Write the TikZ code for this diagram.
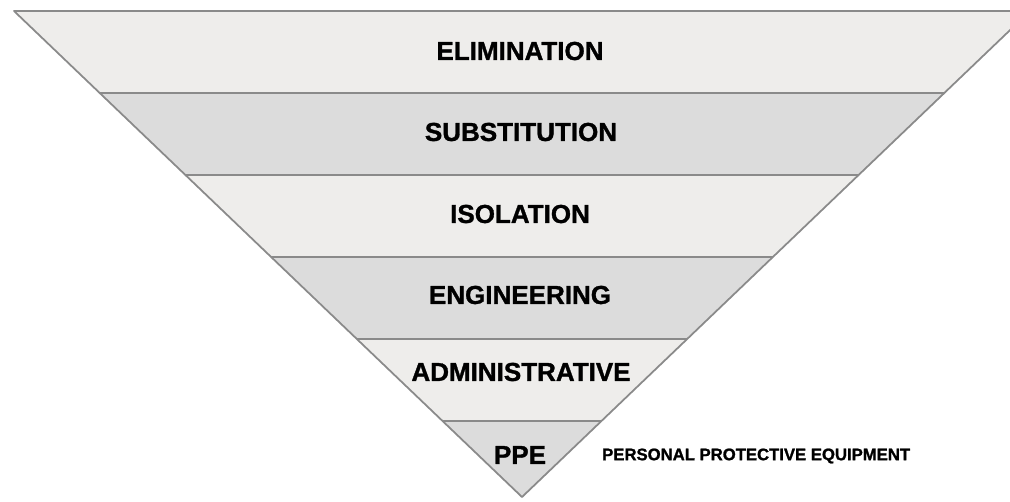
\documentclass[tikz,border=0pt]{standalone}
\usepackage{fontspec}
\setmainfont{Liberation Sans}[BoldFeatures={FakeBold=1.2}]
\definecolor{bandlight}{HTML}{EEEDEB}
\definecolor{banddark}{HTML}{DCDCDC}
\definecolor{edgegray}{HTML}{8A8A8A}
\tikzset{
    level/.style={font=\bfseries\fontsize{14.8}{17}\selectfont},
    note/.style={font=\bfseries\fontsize{9.5}{11}\selectfont, anchor=west}
}

\begin{document}
\begin{tikzpicture}[x=0.02cm, y=-0.02cm]
    \useasboundingbox (0,0) rectangle (1010,501);
    % Draw the bands inside the triangle
    \begin{scope}
        \clip (14,11) -- (1030,11) -- (522,497) -- cycle;
        \foreach \i/\col in {0/bandlight,1/banddark,2/bandlight,3/banddark,4/bandlight,5/banddark}
            \fill[\col] (0,11+82*\i) rectangle (1040,93+82*\i);
        \foreach \i in {1,...,5}
            \draw[edgegray, line width=1.1pt] (0,11+82*\i) -- (1040,11+82*\i);
    \end{scope}
    \draw[edgegray, line width=1pt, line join=round] (14,11) -- (1030,11) -- (522,497) -- cycle;
    % Labels
    \node[level] (elim) at (520,51) {ELIMINATION};
    \node[level] (subst) at (521,132) {SUBSTITUTION};
    \node[level] (iso) at (520,214) {ISOLATION};
    \node[level] (eng) at (520,295) {ENGINEERING};
    \node[level] (admin) at (521,372) {ADMINISTRATIVE};
    \node[level] (ppe) at (520,455) {PPE};
    \node[note] (ppenote) at (596,456) {PERSONAL PROTECTIVE EQUIPMENT};
\end{tikzpicture}
\end{document}
